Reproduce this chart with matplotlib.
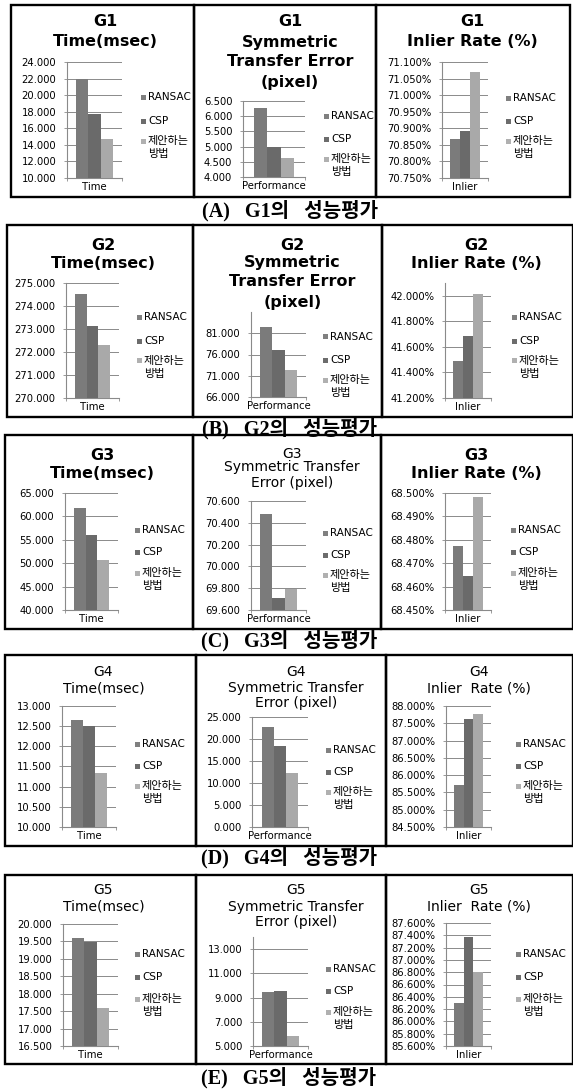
import matplotlib
matplotlib.use("Agg")
import matplotlib.pyplot as plt
from matplotlib.patches import Rectangle
import numpy as np

plt.rcParams["font.family"] = ["DejaVu Sans", "Noto Sans CJK KR"]

W, H = 573, 1090

methods = ["RANSAC", "CSP", "제안하는", "방법"]
bar_colors = ["#7b7b7b", "#6a6a6a", "#a9a9a9"]
legend_colors = ["#808080", "#6c6c6c", "#b0b0b0"]
categories = ["Time", "Performance", "Inlier"]
graphs = ["G1", "G2", "G3", "G4", "G5"]
row_labels = ["(A)", "(B)", "(C)", "(D)", "(E)"]

# measured values per graph: [RANSAC, CSP, proposed]
g1_time = [22.0, 17.7, 14.7]
g1_ste = [6.27, 4.99, 4.62]
g1_inlier = [70.867, 70.891, 71.070]

g2_time = [274.50, 273.13, 272.29]
g2_ste = [82.4, 77.0, 72.3]
g2_inlier = [41.488, 41.685, 42.013]

g3_time = [61.7, 56.1, 50.7]
g3_ste = [70.48, 69.71, 69.79]
g3_inlier = [68.4773, 68.4646, 68.4983]

g4_time = [12.665, 12.515, 11.33]
g4_ste = [22.65, 18.5, 12.3]
g4_inlier = [85.71, 87.615, 87.77]

g5_time = [19.596, 19.48, 17.6]
g5_ste = [9.44, 9.58, 5.8]
g5_inlier = [86.30, 87.37, 86.80]

# axis ranges: (min, max, step, last labelled tick)
g1_axes = [(10, 24, 2, 24), (4.0, 6.5, 0.5, 6.5), (70.75, 71.10, 0.05, 71.10)]
g2_axes = [(270, 275, 1, 275), (66, 86, 5, 81), (41.2, 42.1, 0.2, 42.0)]
g3_axes = [(40, 65, 5, 65), (69.6, 70.6, 0.2, 70.6), (68.45, 68.50, 0.01, 68.50)]
g4_axes = [(10.0, 13.0, 0.5, 13.0), (0, 25, 5, 25), (84.5, 88.0, 0.5, 88.0)]
g5_axes = [(16.5, 20.0, 0.5, 20.0), (5, 14, 2, 13), (85.6, 87.6, 0.2, 87.6)]

values = [
    [g1_time, g1_ste, g1_inlier],
    [g2_time, g2_ste, g2_inlier],
    [g3_time, g3_ste, g3_inlier],
    [g4_time, g4_ste, g4_inlier],
    [g5_time, g5_ste, g5_inlier],
]
axes_ranges = [g1_axes, g2_axes, g3_axes, g4_axes, g5_axes]

# page layout, pixels from the top-left corner
rows = [
    dict(top=5, bottom=197, cols=[11, 194, 376, 570], cap_y=211),
    dict(top=225, bottom=417, cols=[7, 193, 382, 573], cap_y=429),
    dict(top=435, bottom=629, cols=[5, 193, 381, 573], cap_y=641),
    dict(top=655, bottom=846, cols=[5, 196, 386, 573], cap_y=858),
    dict(top=875, bottom=1064, cols=[5, 196, 386, 573], cap_y=1078),
]

BOLD = dict(size=11.5, weight="bold")
PLAIN = dict(size=10, weight="normal")


def titles_time(g, ys, style):
    return dict(lines=[(g, ys[0]), ("Time(msec)", ys[1])], style=style)


panel_specs = [
    [  # row A
        dict(title=titles_time("G1", (17, 37), BOLD), plot=(56, 111, 57, 173), leg=92, gap=(24, 20)),
        dict(title=dict(lines=[("G1", 17), ("Symmetric", 37), ("Transfer Error", 57), ("(pixel)", 77)], style=BOLD),
             plot=(49, 111, 96, 172), leg=111, gap=(23, 20)),
        dict(title=dict(lines=[("G1", 17), ("Inlier Rate (%)", 37)], style=BOLD),
             plot=(66, 112, 57, 173), leg=93, gap=(23, 20)),
    ],
    [  # row B
        dict(title=titles_time("G2", (20, 38), BOLD), plot=(59, 112, 58, 173), leg=92, gap=(24, 20)),
        dict(title=dict(lines=[("G2", 20), ("Symmetric", 38), ("Transfer Error", 57), ("(pixel)", 77)], style=BOLD),
             plot=(58, 113, 87, 172), leg=112, gap=(23, 20)),
        dict(title=dict(lines=[("G2", 20), ("Inlier Rate (%)", 38)], style=BOLD),
             plot=(63, 109, 58, 173), leg=92, gap=(24, 20)),
    ],
    [  # row C
        dict(title=titles_time("G3", (20, 39), BOLD), plot=(60, 113, 58, 175), leg=95, gap=(22, 21)),
        dict(title=dict(lines=[("G3", 19), ("Symmetric Transfer", 32), ("Error (pixel)", 48)], style=PLAIN),
             plot=(58, 113, 66, 175), leg=98, gap=(22, 20)),
        dict(title=dict(lines=[("G3", 20), ("Inlier Rate (%)", 39)], style=BOLD),
             plot=(64, 110, 58, 175), leg=95, gap=(22, 21)),
    ],
    [  # row D
        dict(title=titles_time("G4", (17, 33), PLAIN), plot=(57, 111, 51, 172), leg=89, gap=(22, 20)),
        dict(title=dict(lines=[("G4", 17), ("Symmetric Transfer", 33), ("Error (pixel)", 48)], style=PLAIN),
             plot=(56, 112, 62, 172), leg=95, gap=(22, 20)),
        dict(title=dict(lines=[("G4", 17), ("Inlier  Rate (%)", 33)], style=PLAIN),
             plot=(60, 105, 51, 172), leg=89, gap=(22, 20)),
    ],
    [  # row E
        dict(title=titles_time("G5", (15, 32), PLAIN), plot=(58, 113, 49, 171), leg=79, gap=(23, 22)),
        dict(title=dict(lines=[("G5", 15), ("Symmetric Transfer", 32), ("Error (pixel)", 47)], style=PLAIN),
             plot=(57, 112, 62, 171), leg=94, gap=(22, 21)),
        dict(title=dict(lines=[("G5", 15), ("Inlier  Rate (%)", 32)], style=PLAIN),
             plot=(60, 105, 48, 171), leg=79, gap=(23, 22)),
    ],
]

title_dx = [3, 5, -1]
GRID = "#8a8a8a"
LINE2 = 13  # second line of the wrapped legend entry


def fx(x):
    return x / W


def fy(y):
    return 1 - y / H


fig = plt.figure(figsize=(W / 100, H / 100), dpi=100)

for r, row in enumerate(rows):
    top, bottom, cols = row["top"], row["bottom"], row["cols"]
    for c in range(3):
        bx0, bx1 = cols[c], cols[c + 1]
        spec = panel_specs[r][c]
        vals = values[r][c]
        lo, hi, step, last = axes_ranges[r][c]
        pct = c == 2

        # panel frame
        fig.add_artist(Rectangle((fx(bx0), fy(bottom)), fx(bx1 - bx0), (bottom - top) / H,
                                 transform=fig.transFigure, fill=False, ec="black", lw=1.7))

        # titles
        cx = (bx0 + bx1) / 2 + title_dx[c]
        for text, ty in spec["title"]["lines"]:
            fig.text(fx(cx), fy(top + ty), text, ha="center", va="center",
                     fontsize=spec["title"]["style"]["size"],
                     fontweight=spec["title"]["style"]["weight"], color="black")

        # plot area
        px0, px1, py0, py1 = spec["plot"]
        ax = fig.add_axes([fx(bx0 + px0), fy(top + py1), (px1 - px0) / W, (py1 - py0) / H])
        w = 0.22
        xs = [-w, 0, w]
        ax.bar(xs, vals, width=w, color=bar_colors, zorder=3)
        ax.set_xlim(-0.5, 0.5)
        ax.set_ylim(lo, hi)
        n = int(round((last - lo) / step))
        ticks = [lo + i * step for i in range(n + 1)]
        ax.set_yticks(ticks)
        if pct:
            ax.set_yticklabels([f"{t:.3f}%" for t in ticks])
        else:
            ax.set_yticklabels([f"{t:.3f}" for t in ticks])
        ax.set_xticks([-0.5, 0.5])
        ax.set_xticklabels([])
        ax.tick_params(axis="y", length=2.2, width=0.6, color=GRID, pad=5.5,
                       labelsize=7.2, labelcolor="black")
        ax.tick_params(axis="x", length=2.2, width=0.6, color=GRID)
        ax.grid(axis="y", color=GRID, lw=0.7, zorder=0)
        ax.set_axisbelow(True)
        for s in ("top", "right"):
            ax.spines[s].set_visible(False)
        for s in ("left", "bottom"):
            ax.spines[s].set_color(GRID)
            ax.spines[s].set_linewidth(0.8)
        ax.set_facecolor("none")

        # category label under the bars
        fig.text(fx(bx0 + (px0 + px1) / 2), fy(top + py1 + 9), categories[c],
                 ha="center", va="center", fontsize=7.3)

        # legend
        lx = bx0 + 130
        y = top + spec["leg"]
        ys = [y, y + spec["gap"][0], y + spec["gap"][0] + spec["gap"][1]]
        for k in range(3):
            fig.add_artist(Rectangle((fx(lx), fy(ys[k] + 2.5)), fx(5), 5 / H,
                                     transform=fig.transFigure, fc=legend_colors[k], ec="none"))
            fig.text(fx(lx + 7), fy(ys[k]), methods[k], ha="left", va="center",
                     fontsize=7.5 if k < 2 else 8)
        fig.text(fx(lx + 7), fy(ys[2] + LINE2), methods[3], ha="left", va="center",
                 fontsize=8)

    # row caption
    fig.text(fx((cols[0] + cols[3]) / 2), fy(row["cap_y"]),
             f"{row_labels[r]}   {graphs[r]}의   성능평가",
             ha="center", va="center", fontsize=14.5, fontweight="bold",
             family=["Liberation Serif", "Noto Sans CJK KR"])

fig.savefig("out.png", dpi=100, facecolor="white")
